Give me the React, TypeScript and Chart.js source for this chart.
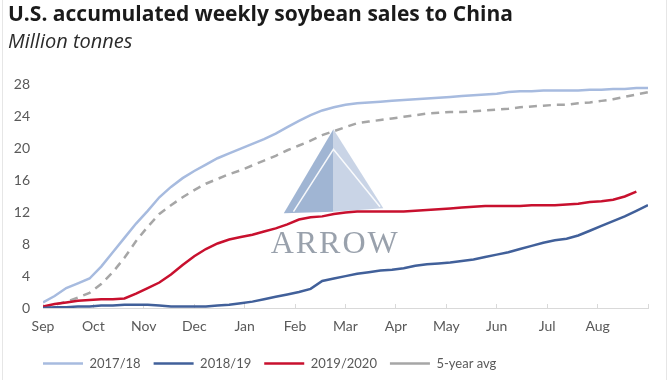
import React, { useEffect, useRef } from 'react';
import { Chart, registerables } from 'chart.js';

Chart.register(...registerables);

const months = ['Sep', 'Oct', 'Nov', 'Dec', 'Jan', 'Feb', 'Mar', 'Apr', 'May', 'Jun', 'Jul', 'Aug'];
const yTickValues = [0, 4, 8, 12, 16, 20, 24, 28];
const weeksInYear = 52;

const seriesLabels = ['2017/18', '2018/19', '2019/2020', '5-year avg'];

const sales2017 = [0.7, 1.5, 2.5, 3.1, 3.7, 5.2, 7.0, 8.8, 10.6, 12.2, 13.9, 15.2, 16.3, 17.2, 18.0, 18.8, 19.4, 20.0, 20.6, 21.2, 21.9, 22.7, 23.5, 24.2, 24.8, 25.2, 25.5, 25.7, 25.8, 25.9, 26.0, 26.1, 26.2, 26.3, 26.4, 26.5, 26.6, 26.7, 26.8, 26.9, 27.1, 27.2, 27.2, 27.3, 27.3, 27.3, 27.3, 27.4, 27.4, 27.5, 27.5, 27.6, 27.6];
const sales2018 = [0.0, 0.1, 0.1, 0.2, 0.2, 0.3, 0.3, 0.4, 0.4, 0.4, 0.3, 0.2, 0.2, 0.2, 0.2, 0.3, 0.4, 0.6, 0.8, 1.1, 1.4, 1.7, 2.0, 2.4, 3.4, 3.7, 4.0, 4.3, 4.5, 4.7, 4.8, 5.0, 5.3, 5.5, 5.6, 5.7, 5.9, 6.1, 6.4, 6.7, 7.0, 7.4, 7.8, 8.2, 8.5, 8.7, 9.1, 9.7, 10.3, 10.9, 11.5, 12.2, 12.9];
const sales2019 = [0.2, 0.5, 0.7, 0.9, 1.0, 1.1, 1.1, 1.2, 1.8, 2.5, 3.2, 4.2, 5.4, 6.5, 7.4, 8.1, 8.6, 8.9, 9.2, 9.6, 10.0, 10.5, 11.1, 11.4, 11.5, 11.8, 12.0, 12.1, 12.1, 12.1, 12.1, 12.1, 12.2, 12.3, 12.4, 12.5, 12.6, 12.7, 12.8, 12.8, 12.8, 12.8, 12.9, 12.9, 12.9, 13.0, 13.1, 13.3, 13.4, 13.6, 14.0, 14.6];
const fiveYearAvg = [0.1, 0.4, 0.8, 1.3, 1.9, 3.0, 4.5, 6.3, 8.4, 10.2, 11.8, 12.9, 13.9, 14.8, 15.6, 16.2, 16.8, 17.3, 17.9, 18.5, 19.1, 19.8, 20.4, 21.0, 21.7, 22.2, 22.7, 23.2, 23.4, 23.6, 23.8, 24.0, 24.2, 24.4, 24.5, 24.6, 24.6, 24.7, 24.8, 24.9, 25.0, 25.2, 25.3, 25.4, 25.5, 25.5, 25.7, 25.8, 26.0, 26.2, 26.5, 26.8, 27.1];

const toPoints = (arr: number[]) => arr.map((v, i) => ({ x: i, y: v }));

const FONT = 'Lato, "Open Sans", sans-serif';
const TITLE_FONT = '"Open Sans", Lato, sans-serif';

const watermarkPlugin = {
  id: 'arrowWatermark',
  beforeDatasetsDraw(chart: any) {
    const { ctx, chartArea: a } = chart;
    const W = a.right - a.left;
    const H = a.bottom - a.top;
    const px = (f: number) => a.left + W * f;
    const py = (f: number) => a.top + H * f;
    ctx.save();
    ctx.fillStyle = 'rgba(128,156,196,0.75)';
    ctx.beginPath();
    ctx.moveTo(px(0.48), py(0.252));
    ctx.lineTo(px(0.398), py(0.604));
    ctx.lineTo(px(0.48), py(0.597));
    ctx.closePath();
    ctx.fill();
    ctx.fillStyle = 'rgba(178,194,220,0.7)';
    ctx.beginPath();
    ctx.moveTo(px(0.48), py(0.252));
    ctx.lineTo(px(0.5625), py(0.583));
    ctx.lineTo(px(0.48), py(0.597));
    ctx.closePath();
    ctx.fill();
    ctx.strokeStyle = 'rgba(255,255,255,0.9)';
    ctx.lineWidth = 1.5;
    ctx.beginPath();
    ctx.moveTo(px(0.414), py(0.597));
    ctx.lineTo(px(0.48), py(0.336));
    ctx.lineTo(px(0.557), py(0.576));
    ctx.stroke();
    ctx.fillStyle = 'rgba(135,144,158,0.85)';
    ctx.font = '32px "Liberation Serif", "DejaVu Serif", serif';
    ctx.textAlign = 'center';
    ctx.textBaseline = 'alphabetic';
    try { (ctx as any).letterSpacing = '2px'; } catch (e) {}
    ctx.fillText('ARROW', px(0.483), py(0.77));
    ctx.restore();
  },
};

const legendShiftPlugin = {
  id: 'legendShift',
  afterLayout(chart: any) {
    if (chart.legend) {
      chart.legend.left = 30;
    }
  },
};

export default function App() {
  const canvasRef = useRef<HTMLCanvasElement | null>(null);

  useEffect(() => {
    if (!canvasRef.current) return;
    const chart = new Chart(canvasRef.current, {
      type: 'line',
      data: {
        datasets: [
          {
            label: seriesLabels[0],
            data: toPoints(sales2017),
            borderColor: '#a7bbdf',
            backgroundColor: '#a7bbdf',
            borderWidth: 2.5,
            pointRadius: 0,
            tension: 0,
          },
          {
            label: seriesLabels[1],
            data: toPoints(sales2018),
            borderColor: '#41609a',
            backgroundColor: '#41609a',
            borderWidth: 2.5,
            pointRadius: 0,
            tension: 0,
          },
          {
            label: seriesLabels[2],
            data: toPoints(sales2019),
            borderColor: '#c8102e',
            backgroundColor: '#c8102e',
            borderWidth: 2.5,
            pointRadius: 0,
            tension: 0,
          },
          {
            label: seriesLabels[3],
            data: toPoints(fiveYearAvg),
            borderColor: '#a6a6a6',
            backgroundColor: '#a6a6a6',
            borderWidth: 2.5,
            borderDash: [8, 6],
            pointRadius: 0,
            tension: 0,
          },
        ],
      },
      options: {
        animation: false,
        responsive: false,
        maintainAspectRatio: false,
        layout: { padding: { left: 8, right: 22, top: 69, bottom: 0 } },
        plugins: {
          title: { display: false },
          tooltip: { enabled: false },
          legend: {
            display: true,
            position: 'bottom',
            align: 'start',
            labels: {
              usePointStyle: true,
              pointStyle: 'line',
              pointStyleWidth: 40,
              padding: 13,
              color: '#595959',
              font: { family: FONT, size: 13 },
            },
          },
        },
        scales: {
          x: {
            type: 'linear',
            min: 0,
            max: weeksInYear,
            afterBuildTicks: (scale: any) => {
              const t = [];
              for (let i = 0; i <= months.length; i++) t.push({ value: (i * weeksInYear) / months.length });
              scale.ticks = t;
            },
            afterFit: (scale: any) => {
              scale.height = 36;
            },
            grid: {
              display: true,
              drawOnChartArea: false,
              drawTicks: true,
              tickLength: -4,
              color: '#d9d9d9',
            },
            border: { display: true, color: '#d9d9d9', width: 1 },
            ticks: {
              autoSkip: false,
              maxRotation: 0,
              padding: 14,
              color: '#595959',
              font: { family: FONT, size: 14 },
              callback: (_v: any, i: number) => months[i] ?? '',
            },
          },
          y: {
            min: 0,
            max: 30,
            afterBuildTicks: (scale: any) => {
              scale.ticks = yTickValues.map((v) => ({ value: v }));
            },
            afterFit: (scale: any) => {
              scale.width = 35;
            },
            grid: { display: false, drawTicks: false },
            border: { display: false },
            ticks: {
              padding: 13,
              color: '#595959',
              font: { family: FONT, size: 14 },
            },
          },
        },
      },
      plugins: [watermarkPlugin, legendShiftPlugin],
    });
    return () => chart.destroy();
  }, []);

  return (
    <div
      style={{
        position: 'absolute',
        left: 0,
        top: 0,
        width: 670,
        height: 380,
        background: '#ffffff',
        overflow: 'hidden',
        fontFamily: FONT,
      }}
    >
      <canvas ref={canvasRef} width={670} height={380} style={{ position: 'absolute', left: 0, top: 0, width: 670, height: 380 }} />
      <div
        style={{
          position: 'absolute',
          left: 8,
          top: 0,
          fontFamily: TITLE_FONT,
          fontSize: 21,
          fontWeight: 700,
          color: '#1a1a1a',
          whiteSpace: 'nowrap',
          lineHeight: '26px',
        }}
      >
        U.S. accumulated weekly soybean sales to China
      </div>
      <div
        style={{
          position: 'absolute',
          left: 8,
          top: 28,
          fontFamily: TITLE_FONT,
          fontSize: 20,
          fontStyle: 'italic',
          color: '#2b2b2b',
          whiteSpace: 'nowrap',
          lineHeight: '26px',
        }}
      >
        Million tonnes
      </div>
      <div style={{ position: 'absolute', left: 2, top: 0, width: 1, height: 380, background: '#e6e6e6' }} />
      <div style={{ position: 'absolute', left: 666, top: 0, width: 1, height: 380, background: '#e6e6e6' }} />
    </div>
  );
}
